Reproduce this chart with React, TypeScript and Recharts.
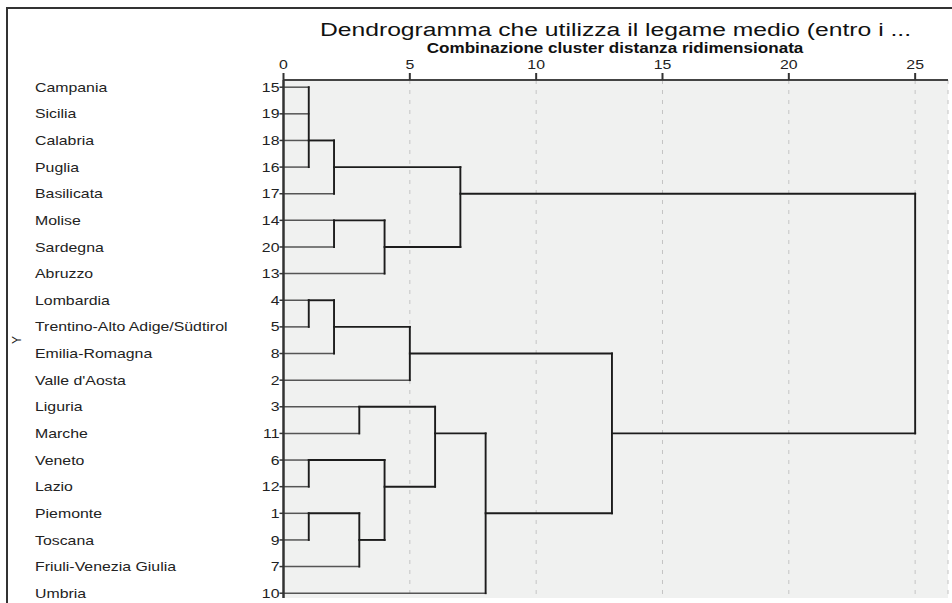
import { CartesianGrid, ComposedChart, ReferenceLine, XAxis, YAxis } from 'recharts'

// rows of the dendrogram, top to bottom
const regions = [
  'Campania', 'Sicilia', 'Calabria', 'Puglia', 'Basilicata', 'Molise', 'Sardegna', 'Abruzzo',
  'Lombardia', 'Trentino-Alto Adige/Südtirol', 'Emilia-Romagna', "Valle d'Aosta", 'Liguria',
  'Marche', 'Veneto', 'Lazio', 'Piemonte', 'Toscana', 'Friuli-Venezia Giulia', 'Umbria',
]
const caseNumbers = [15, 19, 18, 16, 17, 14, 20, 13, 4, 5, 8, 2, 3, 11, 6, 12, 1, 9, 7, 10]
const distanceTicks = [0, 5, 10, 15, 20, 25]

// joins in order; a child is a row index (leaf) or an earlier join 'cN'
const joinChildren: (number | string)[][] = [
  [0, 1, 2, 3],
  ['c0', 4],
  [5, 6],
  ['c2', 7],
  ['c1', 'c3'],
  [8, 9],
  ['c5', 10],
  ['c6', 11],
  [12, 13],
  [14, 15],
  [16, 17],
  ['c10', 18],
  ['c9', 'c11'],
  ['c8', 'c12'],
  ['c13', 19],
  ['c7', 'c14'],
  ['c4', 'c15'],
]
const joinDistance = [1, 2, 2, 4, 7, 1, 2, 5, 3, 1, 1, 3, 4, 6, 8, 13, 25]
// row on which the joined cluster's line leaves to the right
const joinRow = [2, 3, 5, 6, 4, 8, 9, 10, 12, 14, 16, 17, 15, 13, 16, 13, 8]

const FONT = '"Liberation Sans", Arial, sans-serif'
const STRETCH = 1.22
const rows = regions.map((_, i) => i)

function childPos(c: number | string) {
  if (typeof c === 'number') return { d: 0, row: c, leaf: true }
  const k = Number(c.slice(1))
  return { d: joinDistance[k], row: joinRow[k], leaf: false }
}

const segments = joinChildren.flatMap((kids, j) => {
  const d = joinDistance[j]
  const pos = kids.map(childPos)
  const rs = pos.map((p) => p.row)
  return [
    ...pos.map((p) => ({ leaf: p.leaf, a: { x: p.d, y: p.row }, b: { x: d, y: p.row } })),
    { leaf: false, a: { x: d, y: Math.min(...rs) }, b: { x: d, y: Math.max(...rs) } },
  ]
}).sort((s, t) => Number(t.leaf) - Number(s.leaf))

function RowTick({ x, y, payload }: any) {
  const i = payload.value
  return (
    <g fontFamily={FONT} fontSize={13} fill="#222">
      <text transform={`translate(${x},${y + 4.6}) scale(${STRETCH},1)`} textAnchor="end">{caseNumbers[i]}</text>
      <text transform={`translate(35,${y + 4.6}) scale(${STRETCH},1)`}>{regions[i]}</text>
    </g>
  )
}

function DistTick({ x, y, payload }: any) {
  return (
    <text transform={`translate(${x},${y}) scale(${STRETCH},1)`} textAnchor="middle"
      fontFamily={FONT} fontSize={13} fill="#222">{payload.value}</text>
  )
}

export default function App() {
  return (
    <div style={{ position: 'fixed', left: 0, top: 0, width: 952, height: 603, background: '#fff' }}>
      <ComposedChart width={952} height={603} margin={{ top: 50, right: 4, bottom: 5, left: 33.5 }}>
        <CartesianGrid horizontal={false} strokeDasharray="4 6" stroke="#c4c4c4" fill="#f0f1f0" fillOpacity={1} />
        <XAxis type="number" orientation="top" dataKey="x" domain={[0, 26.3]} ticks={distanceTicks}
          allowDataOverflow height={30} tickSize={7} tickMargin={4} tick={<DistTick />}
          axisLine={{ stroke: '#444', strokeWidth: 2 }} tickLine={{ stroke: '#333', strokeWidth: 2 }} />
        <XAxis xAxisId="bottom" type="number" orientation="bottom" domain={[0, 26.3]} height={0}
          tick={false} tickLine={false} axisLine={{ stroke: '#555', strokeWidth: 2 }} />
        <YAxis type="number" dataKey="y" domain={[-0.27, 19.18]} reversed ticks={rows} interval={0}
          allowDataOverflow width={250} tickSize={4} tickMargin={0} tick={<RowTick />}
          axisLine={{ stroke: '#333', strokeWidth: 2.5 }} tickLine={{ stroke: '#333', strokeWidth: 1.5 }} />
        <YAxis yAxisId="right" type="number" orientation="right" domain={[0, 1]} width={0}
          tick={false} tickLine={false} axisLine={{ stroke: '#555', strokeWidth: 2 }} />
        {segments.map((s, i) => (
          <ReferenceLine key={i} segment={[s.a, s.b]} ifOverflow="visible"
            stroke={s.leaf ? '#555' : '#1c1c1c'} strokeWidth={s.leaf ? 1.5 : 1.9} strokeLinecap="square" />
        ))}
      </ComposedChart>
      <svg width={952} height={603} style={{ position: 'absolute', left: 0, top: 0, pointerEvents: 'none' }}>
        <path d="M7,603 L7,8 L952,8" fill="none" stroke="#333" strokeWidth={2} />
        <text transform={`translate(615.5,36) scale(1.3,1)`} textAnchor="middle" fontFamily={FONT}
          fontSize={19} fill="#111">Dendrogramma che utilizza il legame medio (entro i ...</text>
        <text transform={`translate(615,53) scale(${STRETCH},1)`} textAnchor="middle" fontFamily={FONT}
          fontSize={14} fontWeight="bold" fill="#111">Combinazione cluster distanza ridimensionata</text>
        <text transform="translate(21,340) rotate(-90)" textAnchor="middle" fontFamily={FONT}
          fontSize={12} fill="#222">Y</text>
      </svg>
    </div>
  )
}
